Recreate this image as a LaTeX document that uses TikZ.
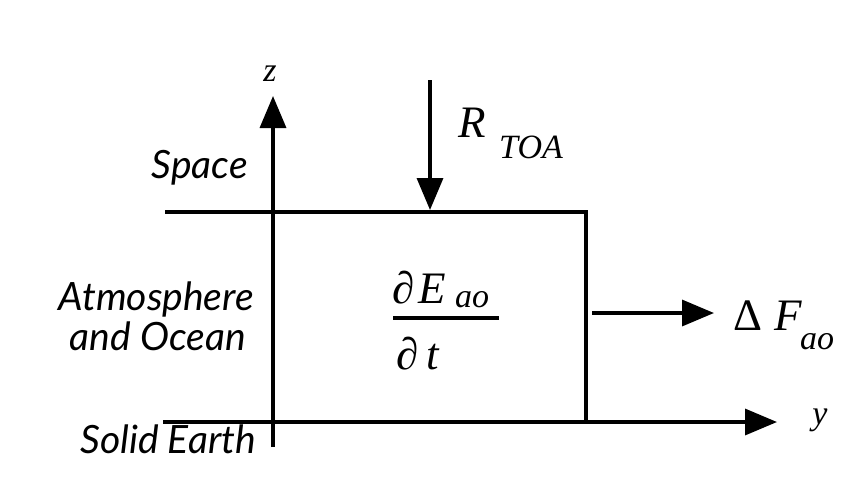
\documentclass[tikz,border=0pt]{standalone}
\usepackage{fontspec}
\setmainfont{Liberation Serif}
\newfontfamily\labelfont{Lato}
\usetikzlibrary{arrows.meta}
\tikzset{
  line/.style={line width=3.4pt},
  arr/.style={line width=3.4pt,-{Triangle[length=32pt,width=26pt]}},
  region/.style={font=\labelfont\itshape\fontsize{39}{44}\selectfont,inner sep=0pt,anchor=base east},
  mathtxt/.style={font=\fontsize{45}{50}\selectfont,inner sep=0pt,anchor=base west},
  subtxt/.style={font=\fontsize{34}{38}\selectfont\itshape,inner sep=0pt,anchor=base west},
  axlabel/.style={font=\fontsize{34}{38}\selectfont\itshape,inner sep=0pt}
}
\begin{document}
\begin{tikzpicture}[x=1pt,y=-1pt]
\useasboundingbox (0,0) rectangle (850,483);
% axes
\coordinate (zb) at (273,447);
\coordinate (zt) at (273,96);
\coordinate (yl) at (163,422);
\coordinate (yr) at (777,422);
\draw[arr] (zb) -- (zt);
\draw[arr] (yl) -- (yr);
\node[axlabel] (zlab) at (270,74) {z};
\node[axlabel] (ylab) at (820,420) {y};
% box
\coordinate (tl) at (165,212);
\coordinate (tr) at (586,212);
\coordinate (br) at (586,422);
\draw[line] (tl) -- (tr) -- (br);
% R_TOA arrow
\coordinate (rs) at (430,80);
\coordinate (re) at (430,210);
\draw[arr] (rs) -- (re);
\node[mathtxt] (R) at (458,137) {\itshape R};
\node[subtxt] (TOA) at (499,158) {TOA};
% Delta F arrow
\coordinate (fs) at (592,313);
\coordinate (fe) at (714,313);
\draw[arr] (fs) -- (fe);
\node[mathtxt] (DF) at (733,330) {Δ\hspace{12pt}\itshape F};
\node[subtxt] (ao1) at (800,349) {ao};
% fraction
\node[mathtxt] (num) at (392,303) {∂\hspace{4pt}\itshape E};
\node[subtxt] (ao2) at (455,307) {ao};
\coordinate (fbl) at (393,318);
\coordinate (fbr) at (499,318);
\draw[line] (fbl) -- (fbr);
\node[mathtxt] (den) at (396,369) {∂\hspace{8pt}\itshape t};
% region labels
\node[region] (space) at (248,178) {Space};
\node[region] (atm) at (254,310) {Atmosphere};
\node[region] (ocean) at (246,350) {and Ocean};
\node[region] (solid) at (256,453) {Solid Earth};
\end{tikzpicture}
\end{document}
